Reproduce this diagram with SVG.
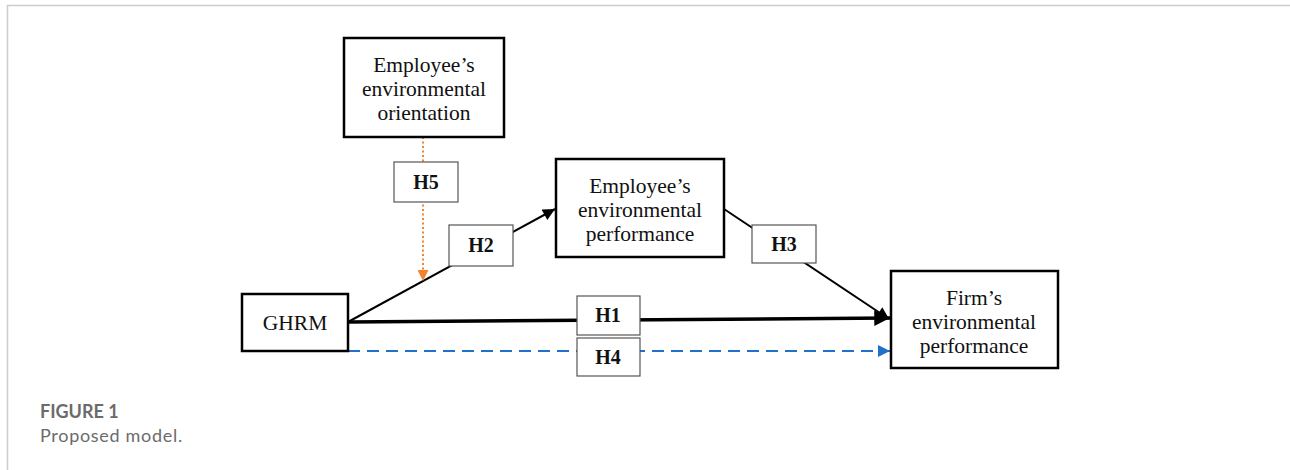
<svg xmlns="http://www.w3.org/2000/svg" width="1290" height="470" viewBox="0 0 1290 470">
<style>
.box{fill:#fff;stroke:#000;stroke-width:2.5}
.lbl{fill:#fff;stroke:#555;stroke-width:1.2}
.t{font-family:"Liberation Serif","Times New Roman",serif;font-size:21.5px;fill:#111;text-anchor:middle}
.h{font-family:"Liberation Serif","Times New Roman",serif;font-size:20px;font-weight:bold;fill:#111;text-anchor:middle}
.cap{font-family:Lato,"Open Sans","Liberation Sans",sans-serif;fill:#6b6b6b}
</style>
<defs>
<marker id="ab" viewBox="0 0 10 10" refX="10" refY="5" markerWidth="6.5" markerHeight="6" markerUnits="strokeWidth" orient="auto"><path d="M0,0 L10,5 L0,10 z" fill="#000"/></marker>
<marker id="ab1" viewBox="0 0 10 10" refX="10" refY="5" markerWidth="4.5" markerHeight="4.5" markerUnits="strokeWidth" orient="auto"><path d="M0,0 L10,5 L0,10 z" fill="#000"/></marker>
<marker id="ao" viewBox="0 0 10 10" refX="10" refY="5" markerWidth="6" markerHeight="5.5" markerUnits="strokeWidth" orient="auto"><path d="M0,0 L10,5 L0,10 z" fill="#f28430"/></marker>
<marker id="abl" viewBox="0 0 10 10" refX="10" refY="5" markerWidth="6" markerHeight="6" markerUnits="strokeWidth" orient="auto"><path d="M0,0 L10,5 L0,10 z" fill="#1f72c8"/></marker>
</defs>
<g id="frame" fill="none" stroke="#cccccc" stroke-width="1.5">
<path d="M7.5,470 V5.5 H1290"/>
</g>
<g id="connectors" fill="none">
<path id="c-h2" d="M348,322 L555,209" stroke="#000" stroke-width="2" marker-end="url(#ab)"/>
<path id="c-h3" d="M724,209 L889,319" stroke="#000" stroke-width="2" marker-end="url(#ab)"/>
<path id="c-h1" d="M348,322 L890,318" stroke="#000" stroke-width="3.5" marker-end="url(#ab1)"/>
<path id="c-h4" d="M348,351 L890,351" stroke="#1f72c8" stroke-width="2" stroke-dasharray="12,7" marker-end="url(#abl)"/>
<path id="c-h5" d="M423,137 L423,281" stroke="#f28430" stroke-width="2" stroke-dasharray="2,2.5" marker-end="url(#ao)"/>
</g>
<g id="n-eeo">
<rect class="box" x="344" y="38" width="160" height="99"/>
<text class="t" x="424" y="72">Employee’s</text>
<text class="t" x="424" y="96">environmental</text>
<text class="t" x="424" y="120">orientation</text>
</g>
<g id="n-eep">
<rect class="box" x="556" y="159" width="168" height="98"/>
<text class="t" x="640" y="193">Employee’s</text>
<text class="t" x="640" y="217">environmental</text>
<text class="t" x="640" y="241">performance</text>
</g>
<g id="n-ghrm">
<rect class="box" x="242" y="294" width="106" height="57"/>
<text class="t" x="295" y="330">GHRM</text>
</g>
<g id="n-fep">
<rect class="box" x="891" y="271" width="167" height="97"/>
<text class="t" x="974" y="305">Firm’s</text>
<text class="t" x="974" y="329">environmental</text>
<text class="t" x="974" y="353">performance</text>
</g>
<g id="l-h5">
<rect class="lbl" x="394" y="162" width="64" height="40"/>
<text class="h" x="426" y="189">H5</text>
</g>
<g id="l-h2">
<rect class="lbl" x="449" y="225" width="64" height="41"/>
<text class="h" x="481" y="252">H2</text>
</g>
<g id="l-h3">
<rect class="lbl" x="752" y="225" width="64" height="38"/>
<text class="h" x="784" y="251">H3</text>
</g>
<g id="l-h1">
<rect class="lbl" x="577" y="296" width="63" height="39"/>
<text class="h" x="608" y="322">H1</text>
</g>
<g id="l-h4">
<rect class="lbl" x="577" y="338" width="63" height="38"/>
<text class="h" x="608" y="364">H4</text>
</g>
<g id="caption">
<text class="cap" x="40" y="418" font-size="18" font-weight="bold">FIGURE 1</text>
<text class="cap" x="40" y="442" font-size="18" letter-spacing="0.7">Proposed model.</text>
</g>
</svg>
